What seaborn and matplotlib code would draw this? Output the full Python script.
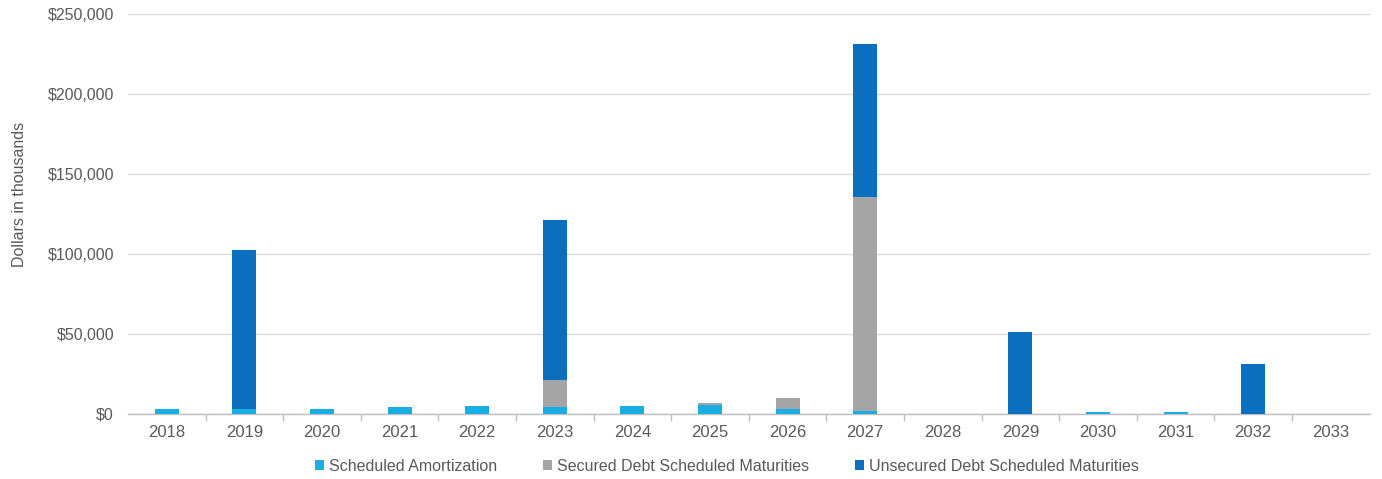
import matplotlib
matplotlib.use("Agg")
import matplotlib.pyplot as plt
import seaborn as sns
import numpy as np
import pandas as pd
from matplotlib.ticker import FuncFormatter, FixedLocator
from matplotlib.patches import Patch

years = ["2018", "2019", "2020", "2021", "2022", "2023", "2024", "2025",
         "2026", "2027", "2028", "2029", "2030", "2031", "2032", "2033"]
amortization = [2900, 3100, 2900, 4200, 5000, 4600, 5000, 5600,
                3100, 1700, 0, 300, 1000, 1000, 300, 0]
secured = [0, 0, 0, 0, 0, 16600, 0, 1100,
           6700, 133900, 0, 0, 0, 0, 0, 0]
unsecured = [0, 99400, 0, 0, 0, 100000, 0, 0,
             0, 95650, 0, 50950, 0, 0, 30950, 0]

series_names = ["Scheduled Amortization", "Secured Debt Scheduled Maturities",
                "Unsecured Debt Scheduled Maturities"]
colors = ["#17AEE6", "#A5A5A5", "#0B6FBF"]

sns.set_theme(style="white")
plt.rcParams['font.family'] = ['Liberation Sans', 'DejaVu Sans']
text_color = "#595959"

df = pd.DataFrame({"year": years, "amort": amortization,
                   "secured": secured, "unsecured": unsecured})
df["lvl1"] = df["amort"]
df["lvl2"] = df["amort"] + df["secured"]
df["lvl3"] = df["lvl2"] + df["unsecured"]

fig = plt.figure(figsize=(13.82, 4.79), dpi=100)
ax = fig.add_axes([0.0926, 0.1357, 0.8984, 0.8351])

width = 0.31
for col, c in zip(["lvl3", "lvl2", "lvl1"], [colors[2], colors[1], colors[0]]):
    sns.barplot(data=df, x="year", y=col, color=c, width=width,
                saturation=1, ax=ax, zorder=3, linewidth=0, edgecolor="none")

ax.set_xlim(-0.5, len(years) - 0.5)
ax.set_ylim(0, 250000)
ax.set_yticks(np.arange(0, 250001, 50000))
ax.yaxis.set_major_formatter(FuncFormatter(lambda v, p: "${:,.0f}".format(v)))
ax.grid(axis="y", color="#D9D9D9", linewidth=1, zorder=0)
ax.set_axisbelow(True)

for s in ["top", "right", "left"]:
    ax.spines[s].set_visible(False)
ax.spines["bottom"].set_color("#BFBFBF")
ax.spines["bottom"].set_linewidth(1)

ax.xaxis.set_minor_locator(FixedLocator(np.arange(0.5, len(years) - 0.5, 1)))
ax.tick_params(axis="x", which="major", length=0, labelsize=12,
               labelcolor=text_color, pad=8)
ax.tick_params(axis="x", which="minor", length=5, color="#BFBFBF", bottom=True)
ax.tick_params(axis="y", length=0, labelsize=11.5, labelcolor=text_color, pad=10)

ax.set_xlabel("")
ax.set_ylabel("Dollars in thousands", fontsize=11.5, color=text_color)
ax.yaxis.set_label_coords(-0.0813, 0.55)

handles = [Patch(facecolor=c, edgecolor="none") for c in colors]
fig.legend(handles, series_names, loc="center", bbox_to_anchor=(0.526, 0.027),
           ncol=3, frameon=False, fontsize=11.5, labelcolor=text_color,
           handlelength=0.55, handleheight=0.55, handletextpad=0.3, columnspacing=2.9)

fig.savefig("out.png", dpi=100)
